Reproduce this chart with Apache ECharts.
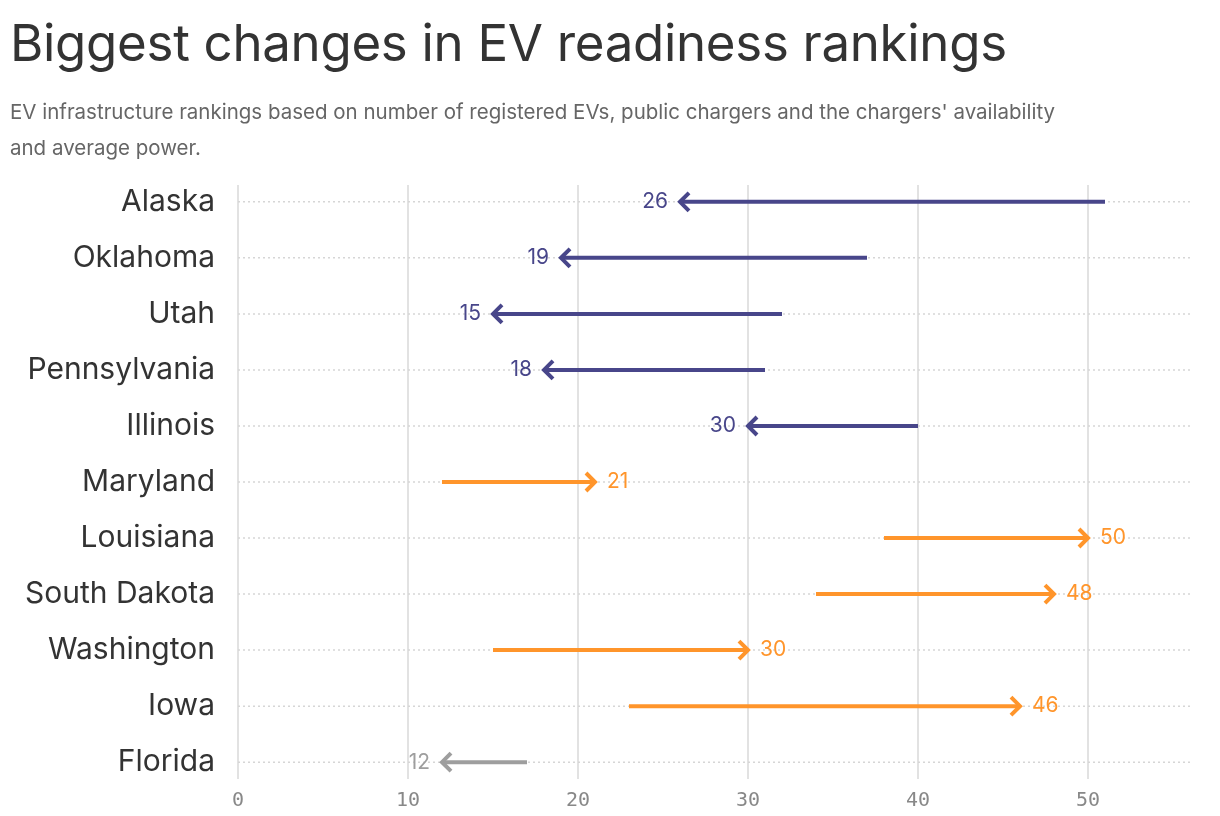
<!DOCTYPE html>
<html lang="en">
<head>
<meta charset="UTF-8">
<title>EV readiness</title>
<script src="https://cdn.jsdelivr.net/npm/echarts@6/dist/echarts.min.js"></script>
<style>
body{margin:0;background:#fff;font-family:Inter,"Noto Sans",sans-serif}
h1{margin:0;position:absolute;left:10px;top:12px;font-size:51px;font-weight:400;color:#333;letter-spacing:-0.3px}
p{margin:0;position:absolute;left:10px;top:94px;width:1065px;font-size:20.5px;line-height:36px;color:#666}
#main{position:absolute;left:0;top:0;width:1220px;height:816px}
</style>
</head>
<body>
<div id="main"></div>
<h1>Biggest changes in EV readiness rankings</h1>
<p>EV infrastructure rankings based on number of registered EVs, public chargers and the chargers' availability and average power.</p>
<script>
var states = ['Alaska','Oklahoma','Utah','Pennsylvania','Illinois','Maryland','Louisiana','South Dakota','Washington','Iowa','Florida'];
var before = [51, 37, 32, 31, 40, 12, 38, 34, 15, 23, 17];
var after  = [26, 19, 15, 18, 30, 21, 50, 48, 30, 46, 12];
var colorOf = ['#48468a','#48468a','#48468a','#48468a','#48468a','#ff952b','#ff952b','#ff952b','#ff952b','#ff952b','#9e9e9e'];
var xTicks = [0, 10, 20, 30, 40, 50];

var data = states.map(function (s, i) { return [before[i], after[i], i]; });

var chart = echarts.init(document.getElementById('main'));
chart.setOption({
  animation: false,
  grid: {left: 238, right: 30, top: 185, bottom: 37},
  xAxis: {
    type: 'value', min: 0, max: 56, interval: 10,
    axisLine: {show: false},
    axisTick: {show: false, customValues: xTicks},
    axisLabel: {fontFamily: 'DejaVu Sans Mono', fontSize: 20, color: '#888', margin: 12,
      customValues: xTicks},
    splitLine: {lineStyle: {color: '#e2e2e2', width: 2}}
  },
  yAxis: {
    type: 'value', min: -0.3, max: 10.3, inverse: true,
    axisLine: {show: false}, axisTick: {show: false},
    axisLabel: {customValues: states.map(function (s, i) { return i; }),
      formatter: function (v) { return states[v]; },
      fontSize: 30, color: '#333', margin: 23, fontFamily: 'Inter'},
    splitLine: {show: false}
  },
  series: [{
    type: 'custom',
    data: data,
    renderItem: function (params, api) {
      var i = api.value(2);
      var p0 = api.coord([api.value(0), i]);
      var p1 = api.coord([api.value(1), i]);
      var left = api.coord([0, i]);
      var right = api.coord([56, i]);
      var c = colorOf[i];
      var dir = p1[0] > p0[0] ? 1 : -1;
      var a = 9;
      return {type: 'group', children: [
        {type: 'line', shape: {x1: left[0], y1: left[1], x2: right[0], y2: right[1]},
          style: {stroke: '#d6d6d6', lineWidth: 1.5, lineDash: [2, 3]}, z2: 0},
        {type: 'line', shape: {x1: p0[0], y1: p0[1], x2: p1[0] - dir * 1, y2: p1[1]},
          style: {stroke: c, lineWidth: 4}, z2: 2},
        {type: 'polyline', shape: {points: [[p1[0] - dir * a, p1[1] - a], [p1[0], p1[1]], [p1[0] - dir * a, p1[1] + a]]},
          style: {stroke: c, lineWidth: 4, fill: null, lineJoin: 'miter'}, z2: 2},
        {type: 'text', x: p1[0] + dir * 12, y: p1[1],
          style: {text: String(api.value(1)), fill: c, fontSize: 21, fontFamily: 'Inter',
            align: dir > 0 ? 'left' : 'right', verticalAlign: 'middle'}, z2: 3}
      ]};
    }
  }]
});
</script>
</body>
</html>
